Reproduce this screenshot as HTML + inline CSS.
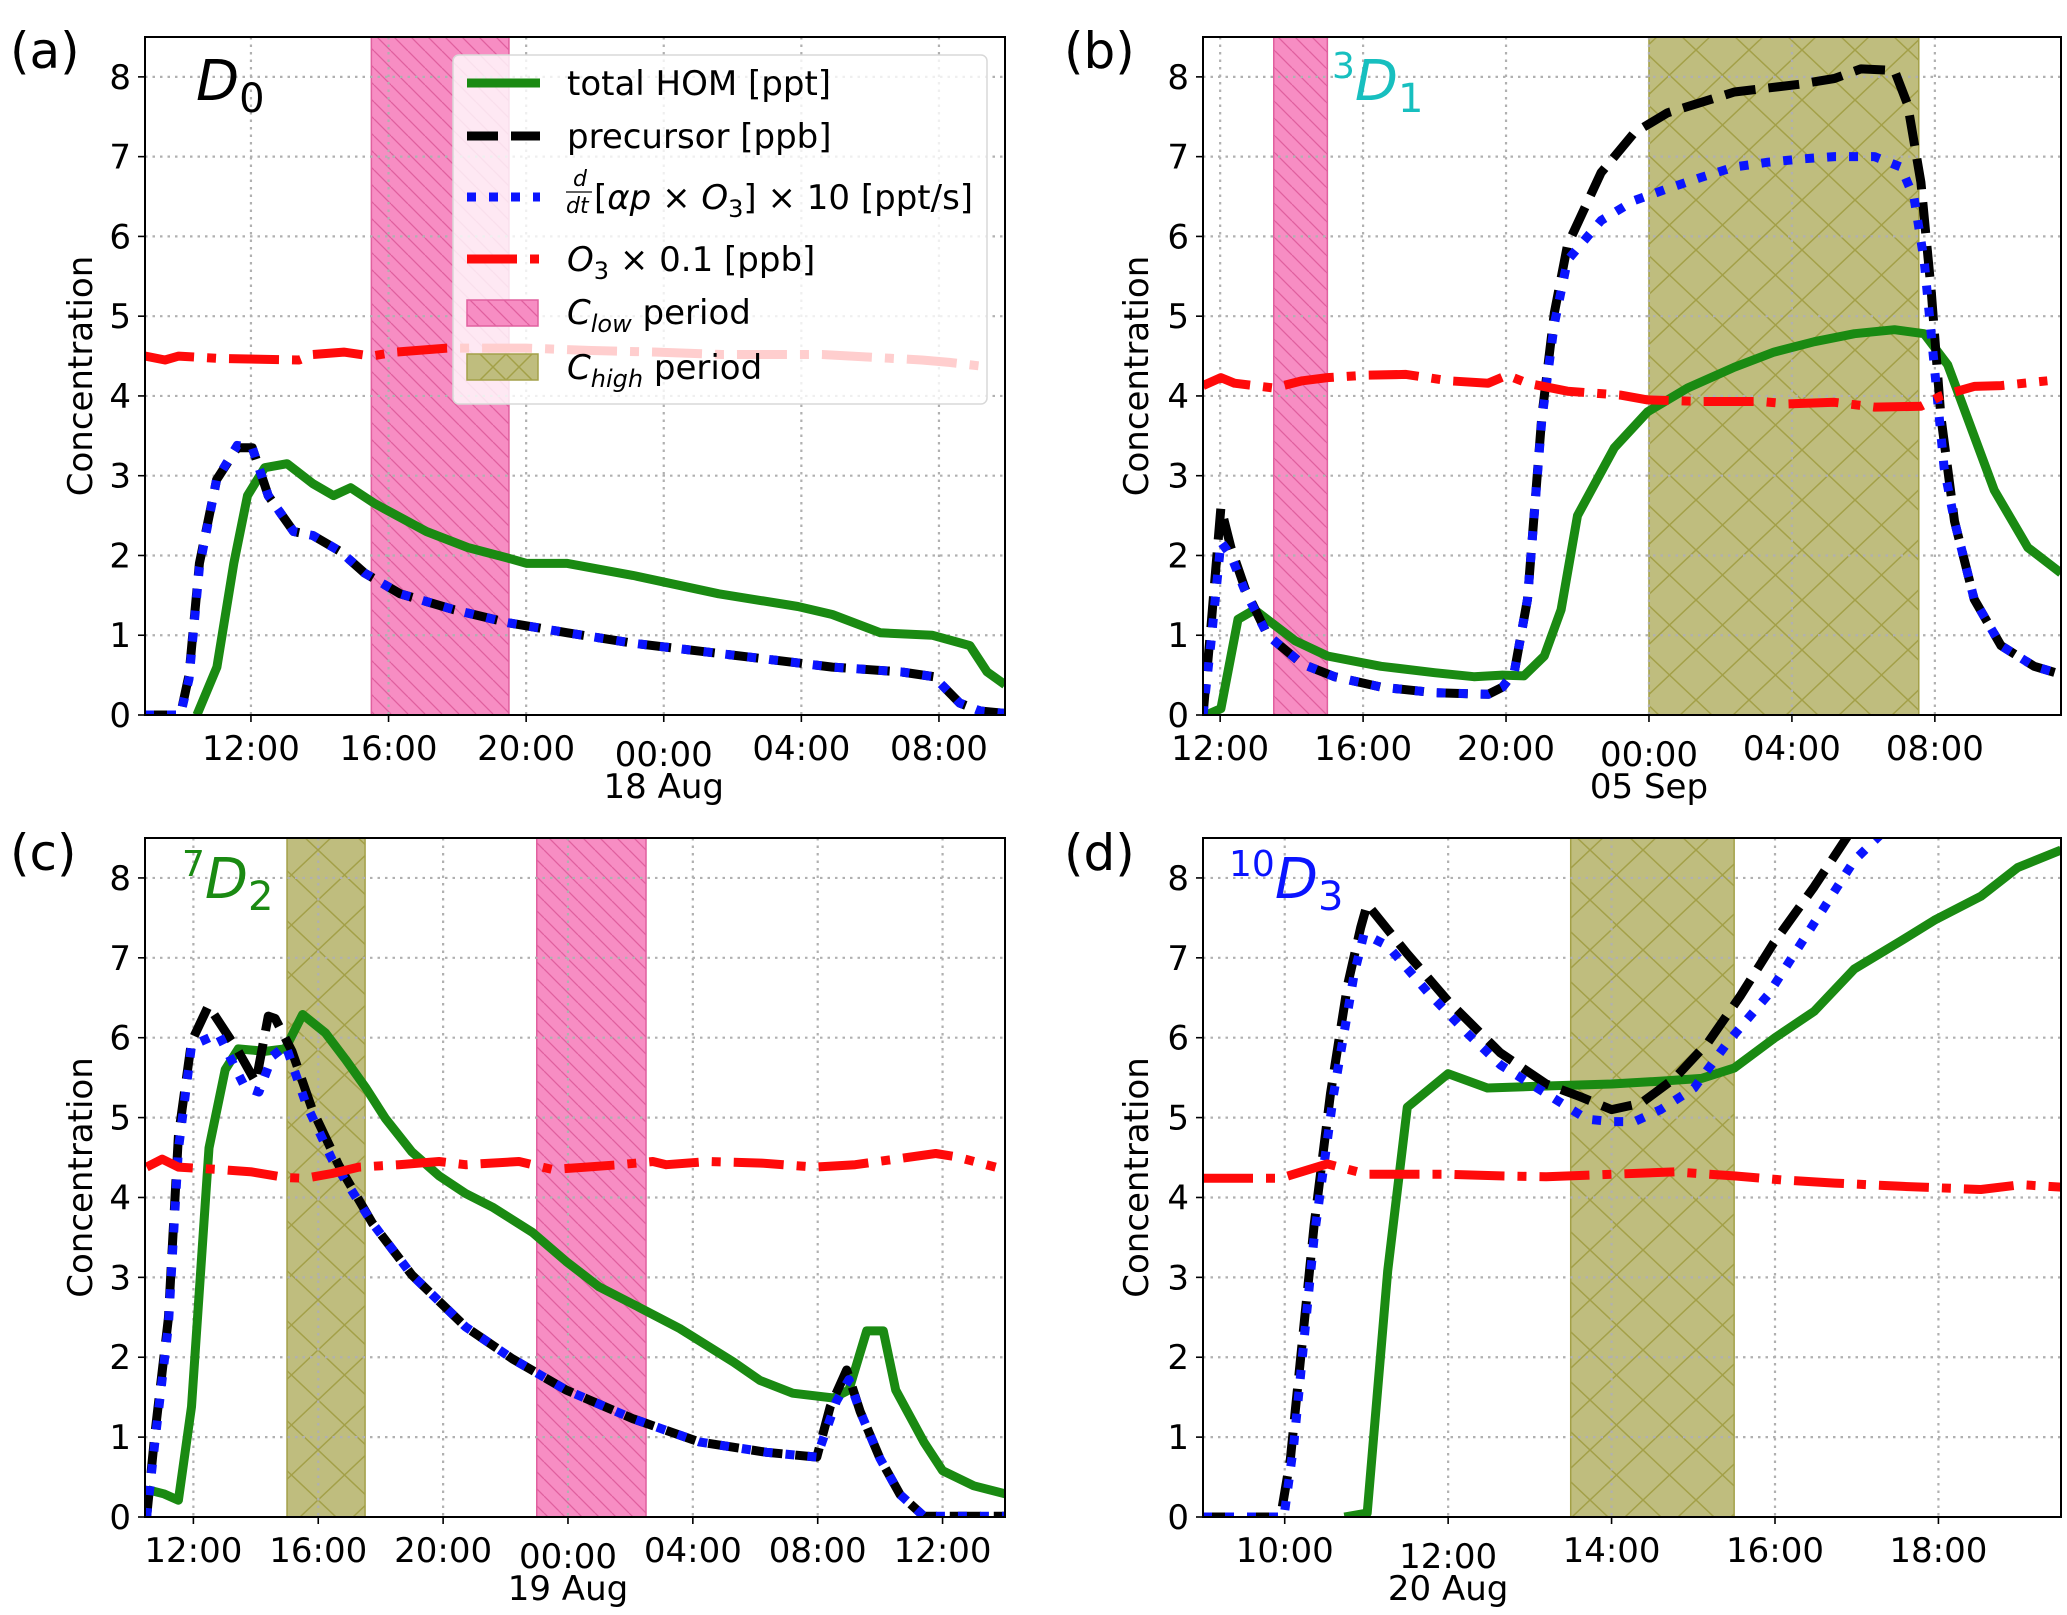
<!DOCTYPE html>
<html><head><meta charset="utf-8"><style>
html,body{margin:0;padding:0;background:#fff}
svg{display:block}
text{font-family:"DejaVu Sans","Liberation Sans",sans-serif;fill:#000}
</style></head><body>
<svg id="fig" width="2067" height="1615" viewBox="0 0 2067 1615" xmlns="http://www.w3.org/2000/svg">
<defs>
<pattern id="pinkHatch" patternUnits="userSpaceOnUse" width="17" height="17">
<rect width="17" height="17" fill="#f78dc3"/>
<path d="M0,0 L17,17 M-17,0 L0,17 M0,-17 L17,0" stroke="#e0609f" stroke-width="1.3"/>
</pattern>
<pattern id="oliveHatch" patternUnits="userSpaceOnUse" width="53" height="50">
<rect width="53" height="50" fill="#bfbd7e"/>
<path d="M0,0 L53,50 M53,0 L0,50" stroke="#a3a048" stroke-width="1.5"/>
</pattern>
</defs>
<g id="root"></g>
</svg>
<script>
// ---------- Panel (a) data: hours relative to 18 Aug 00:00 ----------
const aHomT=[-13.57,-12.99,-12.5,-12.1,-11.6,-10.95,-10.2,-9.6,-9.1,-8.4,-6.9,-5.7,-4.55,-3.98,-2.8,-0.9,1.6,3.9,4.9,6.3,7.8,8.9,9.4,9.92];
const aHomV=[0,0.6,1.9,2.75,3.1,3.15,2.9,2.75,2.85,2.65,2.3,2.1,1.97,1.9,1.9,1.75,1.52,1.36,1.26,1.03,1.0,0.87,0.54,0.38];
const aPreT=[-15.08,-14.05,-13.8,-13.5,-13.0,-12.4,-11.96,-11.5,-10.76,-10.2,-9.4,-8.7,-7.66,-6.1,-4.56,-2.8,-0.9,1.06,3.0,4.9,6.9,7.85,8.6,9.2,9.92];
const aPreV=[0,0,0.5,1.9,2.95,3.35,3.35,2.75,2.3,2.25,2.05,1.78,1.52,1.32,1.16,1.03,0.9,0.8,0.7,0.6,0.54,0.48,0.15,0.05,0.02];
const aRatT=aPreT;
const aRatV=[0,0,0.45,1.85,2.95,3.38,3.35,2.75,2.3,2.25,2.05,1.78,1.52,1.32,1.16,1.03,0.9,0.8,0.7,0.6,0.54,0.48,0.15,0.05,0.02];
const aO3T=[-15.08,-14.5,-14.1,-12.9,-10.6,-10.2,-9.3,-8.5,-7.8,-6.3,-4.0,-2.1,-0.2,1.7,4.6,7.5,8.3,9.5];
const aO3V=[4.5,4.45,4.5,4.47,4.45,4.52,4.55,4.5,4.55,4.6,4.6,4.57,4.55,4.52,4.52,4.45,4.42,4.36];

// ---------- Panel (b) data: hours relative to 05 Sep 00:00 ----------
const bHomT=[-12.39,-11.98,-11.5,-11.04,-9.9,-9.0,-7.5,-6.0,-4.9,-4.1,-3.5,-2.93,-2.46,-2.0,-0.97,-0.04,1.08,2.39,3.5,4.63,5.75,6.87,7.7,8.36,8.9,9.66,10.6,11.53];
const bHomV=[0,0.08,1.2,1.32,0.93,0.74,0.61,0.53,0.48,0.5,0.49,0.74,1.32,2.5,3.35,3.8,4.1,4.36,4.55,4.68,4.78,4.83,4.78,4.39,3.74,2.82,2.1,1.78];
const bPreT=[-12.48,-12.26,-11.98,-11.7,-11.3,-10.67,-9.7,-8.8,-7.5,-6.0,-4.5,-4.1,-3.77,-3.4,-3.0,-2.65,-2.28,-1.34,-0.41,0.52,2.39,4.25,5.19,5.93,6.87,7.24,7.61,7.9,8.17,8.55,9.1,9.85,10.78,11.53];
const bPreV=[0,1.1,2.6,2.1,1.58,1.0,0.64,0.48,0.35,0.28,0.26,0.35,0.54,1.45,3.74,5.04,5.89,6.8,7.3,7.55,7.81,7.91,7.98,8.1,8.08,7.65,6.68,5.3,3.74,2.43,1.45,0.87,0.61,0.51];
const bRatT=[-12.48,-12.26,-11.98,-11.7,-11.3,-10.67,-9.7,-8.8,-7.5,-6.0,-4.5,-4.1,-3.77,-3.4,-3.0,-2.65,-2.28,-1.34,-0.41,0.52,1.46,2.39,3.33,4.25,5.19,6.31,7.05,7.42,7.7,7.98,8.26,8.55,9.1,9.85,10.78,11.53];
const bRatV=[0,0.9,2.17,2.0,1.55,1.0,0.64,0.48,0.35,0.28,0.26,0.35,0.54,1.45,3.7,4.9,5.7,6.2,6.45,6.6,6.74,6.87,6.93,6.97,7.0,7.0,6.87,6.48,5.7,4.4,3.1,2.43,1.45,0.87,0.61,0.51];
const bO3T=[-12.48,-11.98,-11.6,-10.5,-9.7,-9.0,-7.9,-6.8,-5.6,-4.5,-3.97,-3.4,-2.28,-0.8,-0.04,1.46,3.15,3.9,5.19,6.31,7.61,8.17,9.1,9.85,11.15];
const bO3V=[4.13,4.23,4.16,4.1,4.19,4.23,4.26,4.27,4.19,4.16,4.26,4.16,4.06,4.01,3.95,3.93,3.93,3.9,3.92,3.86,3.87,4.0,4.12,4.13,4.19];

// ---------- Panel (c) data: hours relative to 19 Aug 00:00 ----------
const cHomT=[-13.45,-12.95,-12.48,-12.06,-11.5,-10.98,-10.56,-9.7,-9.06,-8.5,-7.77,-7.13,-6.49,-5.85,-5.0,-4.13,-3.28,-2.42,-1.13,-0.06,1.0,2.3,3.58,5.3,6.15,7.2,8.5,9.0,9.57,10.1,10.5,11.4,12.0,13.0,14.0];
const cHomV=[0.34,0.29,0.21,1.38,4.62,5.6,5.86,5.83,5.86,6.29,6.06,5.73,5.38,4.99,4.57,4.27,4.05,3.88,3.56,3.2,2.88,2.62,2.36,1.94,1.71,1.55,1.49,1.59,2.33,2.33,1.59,0.94,0.58,0.39,0.29];
const cPreT=[-13.5,-13.23,-12.8,-12.48,-12.06,-11.52,-11.1,-10.56,-10.0,-9.6,-9.38,-8.84,-8.2,-7.34,-6.27,-5.0,-3.28,-1.78,-0.06,2.08,4.2,6.36,7.97,8.4,8.93,9.36,10.0,10.64,11.4,14.0];
const cPreV=[0,1.05,2.49,4.77,5.95,6.4,6.15,5.83,5.44,6.27,6.24,5.83,5.11,4.4,3.68,3.03,2.38,1.98,1.59,1.23,0.94,0.81,0.75,1.38,1.84,1.32,0.73,0.28,0.01,0.01];
const cRatT=[-13.5,-13.23,-12.8,-12.48,-12.06,-11.2,-10.35,-9.9,-9.47,-9.04,-8.4,-7.55,-6.27,-5.0,-3.28,-1.78,-0.06,2.08,4.2,6.36,7.97,8.6,9.0,9.36,10.0,10.64,11.4,14.0];
const cRatV=[0,0.95,2.4,4.6,5.9,6.05,5.38,5.32,5.77,5.9,5.18,4.47,3.68,3.03,2.38,1.98,1.59,1.23,0.94,0.81,0.75,1.45,1.72,1.32,0.73,0.28,0.01,0.01];
const cO3T=[-13.5,-13.0,-12.48,-11.2,-10.13,-9.06,-8.42,-7.56,-6.7,-5.42,-4.13,-3.28,-1.57,-0.5,0.58,1.65,2.72,3.15,4.5,6.2,7.92,9.2,10.5,11.78,12.42,13.7];
const cO3V=[4.38,4.48,4.38,4.35,4.32,4.25,4.24,4.3,4.38,4.41,4.45,4.41,4.45,4.35,4.38,4.41,4.45,4.41,4.45,4.43,4.38,4.41,4.48,4.55,4.51,4.38];

// ---------- Panel (d) data: clock hours on 20 Aug ----------
const dHomT=[10.73,11.01,11.26,11.5,12.0,12.48,13.05,14.0,14.68,15.1,15.5,16.0,16.48,16.97,17.54,17.95,18.52,18.97,19.5];
const dHomV=[0,0.05,3.08,5.13,5.55,5.37,5.39,5.42,5.46,5.49,5.62,6.0,6.33,6.86,7.21,7.47,7.77,8.13,8.35];
const dPreT=[9.0,9.95,10.07,10.36,10.56,10.77,10.93,11.01,11.5,12.0,12.64,13.2,13.62,14.0,14.36,14.77,15.18,15.58,15.98,16.48,16.9];
const dPreV=[0,0,0.73,3.65,5.3,6.66,7.38,7.67,7.05,6.46,5.81,5.42,5.26,5.1,5.18,5.49,5.94,6.53,7.18,7.89,8.54];
const dRatT=[9.0,9.99,10.11,10.36,10.6,10.85,10.97,11.26,11.75,12.24,12.64,13.2,13.7,14.0,14.28,14.6,15.01,15.42,15.91,16.4,16.97,17.3];
const dRatV=[0,0,0.9,3.5,5.3,6.8,7.3,7.15,6.57,6.05,5.66,5.3,4.98,4.95,4.95,5.1,5.37,5.94,6.53,7.31,8.22,8.55];
const dO3T=[9.0,9.95,10.2,10.52,11.01,12.0,12.64,13.2,14.0,14.77,15.5,16.08,16.73,17.54,18.52,19.01,19.5];
const dO3V=[4.24,4.24,4.32,4.42,4.29,4.29,4.27,4.26,4.29,4.32,4.27,4.22,4.18,4.14,4.1,4.16,4.13];

// ---------- Tick labels ----------
const yTickVals=[0,1,2,3,4,5,6,7,8];
const aTickHours=[-12,-8,-4,0,4,8];
const aTickLabels=["12:00","16:00","20:00","00:00","04:00","08:00"];
const bTickHours=[-12,-8,-4,0,4,8];
const bTickLabels=["12:00","16:00","20:00","00:00","04:00","08:00"];
const cTickHours=[-12,-8,-4,0,4,8,12];
const cTickLabels=["12:00","16:00","20:00","00:00","04:00","08:00","12:00"];
const dTickHours=[10,12,14,16,18];
const dTickLabels=["10:00","12:00","14:00","16:00","18:00"];

const NS="http://www.w3.org/2000/svg";
const root=document.getElementById('root');
function mk(tag,attrs,parent){const e=document.createElementNS(NS,tag);for(const k in attrs)e.setAttribute(k,attrs[k]);(parent||root).appendChild(e);return e;}
const LW=9;

function panel(cfg){
  const g=mk('g',{});
  
  
  const X=h=>cfg.x0+(h-cfg.t0)/(cfg.t1-cfg.t0)*(cfg.x1-cfg.x0);
  const Y=v=>cfg.yb-(v/8.5)*(cfg.yb-cfg.yt);
  const cid='clip'+cfg.id;
  const cp=mk('clipPath',{id:cid},g);mk('rect',{x:cfg.x0,y:cfg.yt,width:cfg.x1-cfg.x0,height:cfg.yb-cfg.yt},cp);
  cfg.spans.forEach(s=>{
    const r=mk('rect',{x:X(s[0]),y:cfg.yt,width:X(s[1])-X(s[0]),height:cfg.yb-cfg.yt,fill:s[2]=='low'?'url(#pinkHatch)':'url(#oliveHatch)',stroke:s[2]=='low'?'#e0609f':'#a3a048','stroke-width':1.5},g);
    
    
  });
  cfg.ticks.forEach(h=>{const l=mk('line',{x1:X(h),x2:X(h),y1:cfg.yt,y2:cfg.yb,stroke:'#b0b0b0','stroke-width':2.2,'stroke-dasharray':'2.5,5'},g);
    });
  yTickVals.forEach(v=>{if(v==0)return;const l=mk('line',{x1:cfg.x0,x2:cfg.x1,y1:Y(v),y2:Y(v),stroke:'#b0b0b0','stroke-width':2.2,'stroke-dasharray':'2.5,5'},g);
    });
  const series=[
    [cfg.homT,cfg.homV,'#1a8a12','none','total-hom-line'],
    [cfg.preT,cfg.preV,'#000','31,13','precursor-line'],
    [cfg.ratT,cfg.ratV,'#0a14ff','9,13','rate-line'],
    [cfg.o3T,cfg.o3V,'#ff0a0a','50,13,9,13','ozone-line']];
  const lg=mk('g',{'clip-path':'url(#'+cid+')'},g);
  series.forEach(s=>{
    let d='';s[0].forEach((t,i)=>{d+=(i?'L':'M')+X(t).toFixed(1)+','+Y(s[1][i]).toFixed(1);});
    const p=mk('path',{d:d,fill:'none',stroke:s[2],'stroke-width':LW,'stroke-linejoin':'round'},lg);
    if(s[3]!='none')p.setAttribute('stroke-dasharray',s[3]);
    
    
  });
  const fr=mk('rect',{x:cfg.x0,y:cfg.yt,width:cfg.x1-cfg.x0,height:cfg.yb-cfg.yt,fill:'none',stroke:'#000','stroke-width':2},g);
  
  yTickVals.forEach(v=>{
    mk('line',{x1:cfg.x0-7,x2:cfg.x0,y1:Y(v),y2:Y(v),stroke:'#000','stroke-width':1.6},g);
    const t=mk('text',{x:cfg.x0-14,y:Y(v)+12,'text-anchor':'end','font-size':34},g);t.textContent=v;
    
  });
  cfg.ticks.forEach((h,i)=>{
    mk('line',{x1:X(h),x2:X(h),y1:cfg.yb,y2:cfg.yb+7,stroke:'#000','stroke-width':1.6},g);
    const lab=cfg.labels[i];
    const t=mk('text',{x:X(h),y:cfg.yb+45+(lab=='00:00'&&cfg.id!='d'?6:0)+(cfg.id=='d'&&lab=='12:00'?6:0),'text-anchor':'middle','font-size':34},g);t.textContent=lab;
    
  });
  const dt=mk('text',{x:X(cfg.dateAt),y:cfg.yb+83,'text-anchor':'middle','font-size':34},g);dt.textContent=cfg.date;
  
  const cy=(cfg.yt+cfg.yb)/2;
  const yl=mk('text',{x:cfg.ylx,y:cy,'text-anchor':'middle','font-size':34,transform:'rotate(-90 '+cfg.ylx+' '+cy+')'},g);yl.textContent='Concentration';
  
  const pl=mk('text',{x:cfg.plx,y:cfg.ply,'font-size':50},g);pl.textContent=cfg.plabel;
  
  return {g,X,Y};
}

panel({id:'a',x0:145,x1:1005,yt:37,yb:715,t0:-15.08,t1:9.92,ticks:aTickHours,labels:aTickLabels,date:'18 Aug',dateAt:0,
  homT:aHomT,homV:aHomV,preT:aPreT,preV:aPreV,ratT:aRatT,ratV:aRatV,o3T:aO3T,o3V:aO3V,spans:[[-8.5,-4.5,'low']],ylx:92,plx:10,ply:68,plabel:'(a)'});
panel({id:'b',x0:1203,x1:2061,yt:37,yb:715,t0:-12.48,t1:11.53,ticks:bTickHours,labels:bTickLabels,date:'05 Sep',dateAt:0,
  homT:bHomT,homV:bHomV,preT:bPreT,preV:bPreV,ratT:bRatT,ratV:bRatV,o3T:bO3T,o3V:bO3V,spans:[[-10.5,-9.0,'low'],[0,7.55,'high']],ylx:1148,plx:1064,ply:68,plabel:'(b)'});
panel({id:'c',x0:145,x1:1005,yt:838,yb:1517,t0:-13.55,t1:14.0,ticks:cTickHours,labels:cTickLabels,date:'19 Aug',dateAt:0,
  homT:cHomT,homV:cHomV,preT:cPreT,preV:cPreV,ratT:cRatT,ratV:cRatV,o3T:cO3T,o3V:cO3V,spans:[[-9.0,-6.5,'high'],[-1.0,2.5,'low']],ylx:92,plx:10,ply:870,plabel:'(c)'});
panel({id:'d',x0:1203,x1:2061,yt:838,yb:1517,t0:9.0,t1:19.5,ticks:dTickHours,labels:dTickLabels,date:'20 Aug',dateAt:12,
  homT:dHomT,homV:dHomV,preT:dPreT,preV:dPreV,ratT:dRatT,ratV:dRatV,o3T:dO3T,o3V:dO3V,spans:[[13.5,15.5,'high']],ylx:1148,plx:1064,ply:870,plabel:'(d)'});

function ann(x,y,color,sup,sub,name){
  const t=mk('text',{x:x,y:y,'font-size':56,fill:color});
  
  
  t.innerHTML=(sup?'<tspan font-size="36" dy="-22" fill="'+color+'">'+sup+'</tspan><tspan dy="22" font-style="italic" fill="'+color+'">D</tspan>':'<tspan font-style="italic" fill="'+color+'">D</tspan>')+'<tspan font-size="40" dy="12" fill="'+color+'">'+sub+'</tspan>';
}
ann(196,100,'#000','', '0','state-label-d0');
ann(1332,100,'#17bfbf','3','1','state-label-d1');
ann(182,898,'#1a8a12','7','2','state-label-d2');
ann(1229,898,'#0a14ff','10','3','state-label-d3');

const lg=mk('g',{});


mk('rect',{x:453,y:55,width:534,height:349,rx:6,fill:'rgba(255,255,255,0.8)',stroke:'#d8d8d8','stroke-width':1.5},lg);
const legY=[83,136,197,259,312,367];
const legStyles=[['#1a8a12','none'],['#000','31,13'],['#0a14ff','9,13'],['#ff0a0a','50,13,9,13']];
legStyles.forEach((s,i)=>{const l=mk('line',{x1:467,x2:540,y1:legY[i],y2:legY[i],stroke:s[0],'stroke-width':LW},lg);if(s[1]!='none')l.setAttribute('stroke-dasharray',s[1]);
  });
mk('rect',{x:467,y:300,width:71,height:26,fill:'url(#pinkHatch)',stroke:'#e0609f','stroke-width':1.5},lg);
mk('rect',{x:467,y:354,width:71,height:26,fill:'#bfbd7e',stroke:'#a3a048','stroke-width':1.5},lg);
mk('path',{d:'M480,354 L506,380 M506,354 L480,380 M506,354 L532,380 M532,354 L506,380',stroke:'#a3a048','stroke-width':1.5},lg);
function lt(y,html,name){const t=mk('text',{x:567,y:y+12,'font-size':34},lg);t.innerHTML=html;}
lt(83,'total HOM [ppt]','legend-entry-total-hom');
lt(136,'precursor [ppb]','legend-entry-precursor');
mk('text',{x:573,y:186,'font-size':22,'font-style':'italic'},lg).textContent='d';
mk('line',{x1:566,x2:592,y1:192,y2:192,stroke:'#000','stroke-width':1.2},lg);
mk('text',{x:566,y:213,'font-size':22,'font-style':'italic'},lg).textContent='dt';
const t3=mk('text',{x:594,y:209,'font-size':34},lg);


t3.innerHTML='[<tspan font-style="italic">αp</tspan> × <tspan font-style="italic">O</tspan><tspan font-size="24" dy="8">3</tspan><tspan dy="-8">] × 10 [ppt/s]</tspan>';
lt(259,'<tspan font-style="italic">O</tspan><tspan font-size="24" dy="8">3</tspan><tspan dy="-8"> × 0.1 [ppb]</tspan>','legend-entry-ozone');
lt(312,'<tspan font-style="italic">C</tspan><tspan font-size="24" dy="8" font-style="italic">low</tspan><tspan dy="-8"> period</tspan>','legend-entry-c-low');
lt(367,'<tspan font-style="italic">C</tspan><tspan font-size="24" dy="8" font-style="italic">high</tspan><tspan dy="-8"> period</tspan>','legend-entry-c-high');
</script>
</body></html>
